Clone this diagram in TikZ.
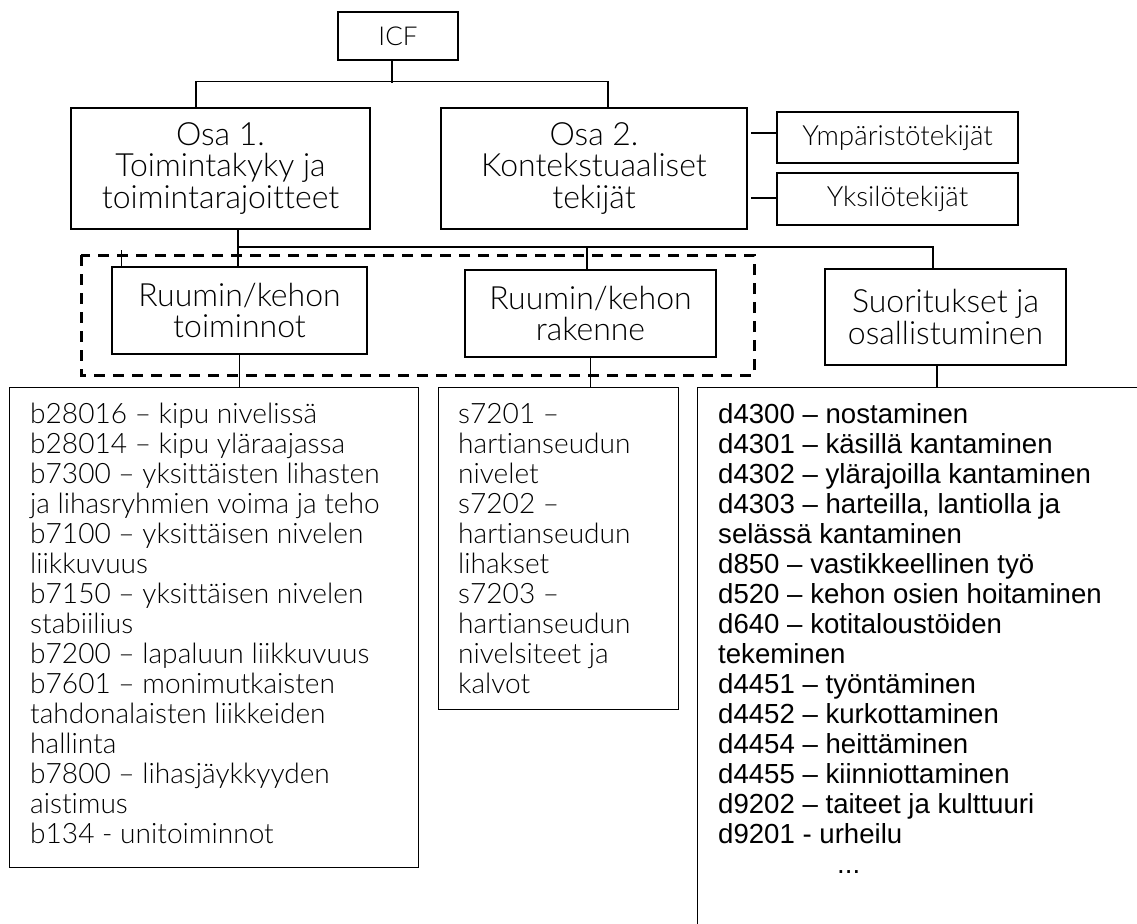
\documentclass[tikz,border=0pt]{standalone}
\usepackage{fontspec}
\setmainfont{Lato Light}[Ligatures=CommonOff]
\newfontfamily\listfont{Liberation Sans}
\tikzset{
  box/.style={draw, line width=1.4pt, inner sep=0pt, align=center,
    font=\fontsize{32}{31.5}\selectfont},
  sidebox/.style={box, font=\fontsize{27.8}{30}\selectfont},
  listbox/.style={draw, line width=1.4pt, inner sep=0pt, anchor=north west},
  listline/.style={anchor=base west, inner sep=0pt, font=\fontsize{28.1}{30}\selectfont},
  dlistline/.style={anchor=base west, inner sep=0pt, font=\listfont\fontsize{27.6}{30}\selectfont},
  link/.style={line width=1.2pt},
  groupbox/.style={line width=3pt, dash pattern=on 11pt off 8pt}
}
\begin{document}
\begin{tikzpicture}[x=1pt, y=-1pt]
\useasboundingbox (0,0) rectangle (1137,923);
\node[box, minimum width=120pt, minimum height=48pt, font=\fontsize{26}{30}\selectfont] (icf) at (398,36) {ICF};
\node[box, minimum width=299pt, minimum height=121pt] (osa1) at (220.5,168.5) {Osa 1.\\Toimintakyky ja\\toimintarajoitteet};
\node[box, minimum width=306pt, minimum height=121pt] (osa2) at (594,168.5) {Osa 2.\\Kontekstuaaliset\\tekijät};
\node[sidebox, minimum width=241pt, minimum height=51pt] (ymp) at (897.5,137.5) {Ympäristötekijät};
\node[sidebox, minimum width=241pt, minimum height=52pt] (yks) at (897.5,199) {Yksilötekijät};
\draw[groupbox] (81,255) rectangle (754,375);
\node[box, minimum width=255pt, minimum height=87pt] (toim) at (239.5,310.5) {Ruumin/kehon\\toiminnot};
\node[box, minimum width=251pt, minimum height=87pt] (rak) at (590.5,313.5) {Ruumin/kehon\\rakenne};
\node[box, minimum width=241pt, minimum height=96pt] (suor) at (945.5,317) {Suoritukset ja\\osallistuminen};
\node[listbox, minimum width=409pt, minimum height=480pt] (toimlist) at (9,387) {};
\node[listbox, minimum width=240pt, minimum height=322pt] (raklist) at (438,387) {};
\begin{scope}
\clip (0,0) rectangle (1137,923);
\node[listbox, minimum width=600pt, minimum height=700pt] (suorlist) at (697,387) {};
\end{scope}
\draw[link] ([xshift=-6pt]icf.south) -- ++(0,22);
\draw[link] ([xshift=-24.5pt]osa1.north) -- ++(0,-26) -| ([xshift=14pt]osa2.north);
\draw[link] ([yshift=4.5pt]ymp.west) -- ++(-25,0);
\draw[link] ([yshift=1pt]yks.west) -- ++(-25,0);
\coordinate (hub) at (238,247);
\coordinate (suorin) at ([xshift=-12.5pt]suor.north);
\coordinate (rakin) at ([xshift=-3.5pt]rak.north);
\coordinate (suorout) at ([xshift=-8.5pt]suor.south);
\draw[link] (osa1.south -| hub) -- (toim.north -| hub);
\draw[link] (hub) -| (suorin);
\draw[link] (rakin) -- (rakin |- hub);
\draw[link] ([xshift=10pt]toim.north west) -- ++(0,-16);
\draw[link] (toim.south) -- (toim.south |- toimlist.north);
\draw[link] (rak.south) -- (rak.south |- raklist.north);
\draw[link] (suorout) -- (suorout |- suorlist.north);
\foreach \txt [count=\i from 0] in {{b28016 – kipu nivelissä}, {b28014 – kipu yläraajassa},
    {b7300 – yksittäisten lihasten}, {ja lihasryhmien voima ja teho},
    {b7100 – yksittäisen nivelen}, {liikkuvuus}, {b7150 – yksittäisen nivelen}, {stabiilius},
    {b7200 – lapaluun liikkuvuus}, {b7601 – monimutkaisten}, {tahdonalaisten liikkeiden},
    {hallinta}, {b7800 – lihasjäykkyyden}, {aistimus}, {b134 - unitoiminnot}}
  \node[listline] (toim-\i) at (30,423+30*\i) {\txt};
\foreach \txt [count=\i from 0] in {{s7201 –}, {hartianseudun}, {nivelet}, {s7202 –},
    {hartianseudun}, {lihakset}, {s7203 –}, {hartianseudun}, {nivelsiteet ja}, {kalvot}}
  \node[listline] (rak-\i) at (458,423+30*\i) {\txt};
\foreach \txt [count=\i from 0] in {{d4300 – nostaminen}, {d4301 – käsillä kantaminen},
    {d4302 – ylärajoilla kantaminen}, {d4303 – harteilla, lantiolla ja},
    {selässä kantaminen}, {d850 – vastikkeellinen työ}, {d520 – kehon osien hoitaminen},
    {d640 – kotitaloustöiden}, {tekeminen}, {d4451 – työntäminen}, {d4452 – kurkottaminen},
    {d4454 – heittäminen}, {d4455 – kiinniottaminen}, {d9202 – taiteet ja kulttuuri},
    {d9201 - urheilu}}
  \node[dlistline] (suor-\i) at (718,423+30*\i) {\txt};
\node[dlistline] (suor-more) at (837,873) {...};
\end{tikzpicture}
\end{document}
